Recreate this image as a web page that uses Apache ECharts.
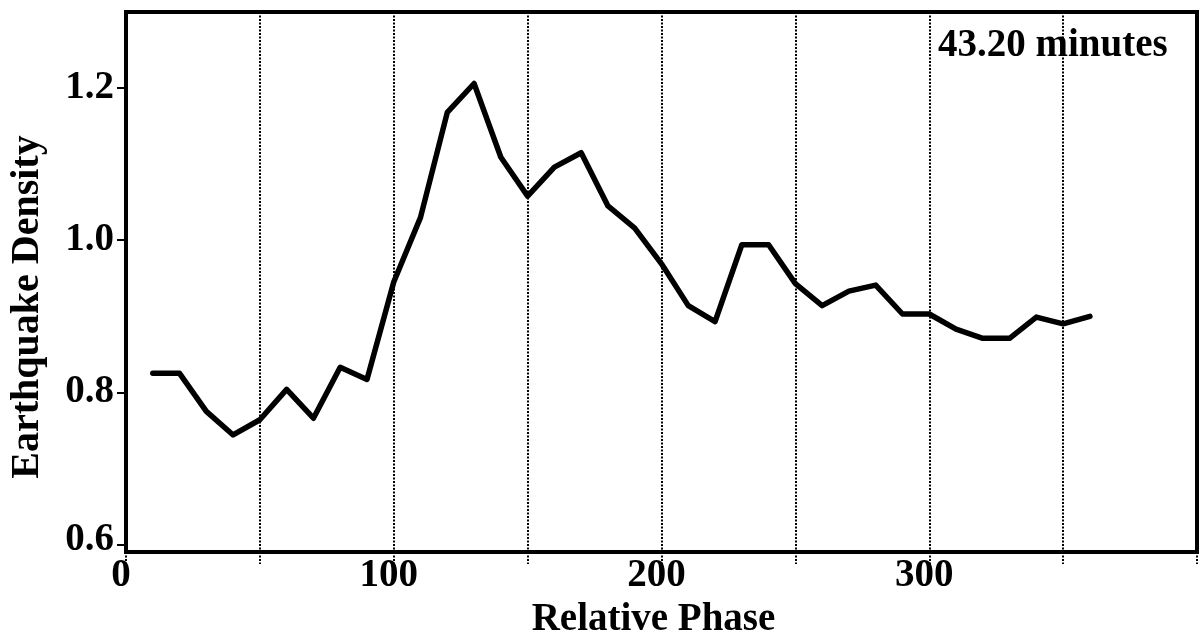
<!DOCTYPE html>
<html>
<head>
<meta charset="utf-8">
<title>Earthquake Density vs Relative Phase</title>
<script src="https://cdn.jsdelivr.net/npm/echarts@6/dist/echarts.min.js"></script>
<style>
  html, body { margin: 0; padding: 0; background: #ffffff; }
  #chart { width: 1203px; height: 644px; }
</style>
</head>
<body>
<div id="chart"></div>
<script>
// Relative phase (degrees) of each bin and the earthquake density in it
const phase = [10, 20, 30, 40, 50, 60, 70, 80, 90, 100,
               110, 120, 130, 140, 150, 160, 170, 180, 190, 200,
               210, 220, 230, 240, 250, 260, 270, 280, 290, 300,
               310, 320, 330, 340, 350, 360];
const density = [0.825, 0.825, 0.775, 0.744, 0.764, 0.804, 0.766, 0.833, 0.817, 0.945,
                 1.030, 1.168, 1.206, 1.109, 1.058, 1.096, 1.115, 1.045, 1.016, 0.969,
                 0.914, 0.893, 0.994, 0.994, 0.943, 0.914, 0.933, 0.941, 0.903, 0.903,
                 0.883, 0.871, 0.871, 0.899, 0.890, 0.900];

const xTickLabels = [0, 100, 200, 300];
const yTickLabels = [0.6, 0.8, 1.0, 1.2];
const periodLabel = '43.20 minutes';

const points = phase.map((p, i) => [p, density[i]]);
const FONT = 'Liberation Serif';

const chart = echarts.init(document.getElementById('chart'), null, { renderer: 'canvas' });

chart.setOption({
  backgroundColor: '#ffffff',
  animation: false,
  title: {
    text: periodLabel,
    left: 938,
    top: 26,
    padding: 0,
    textStyle: { fontFamily: FONT, fontWeight: 'bold', fontSize: 39, color: '#000' }
  },
  grid: {
    left: 119, right: 6, top: 12, bottom: 78,
    show: true,
    borderColor: '#000',
    borderWidth: 4,
    backgroundColor: 'transparent'
  },
  xAxis: {
    type: 'value',
    min: 0,
    max: 400,
    interval: 50,
    name: 'Relative Phase',
    nameLocation: 'middle',
    nameGap: 40,
    nameTextStyle: {
      fontFamily: FONT, fontWeight: 'bold', fontSize: 39, color: '#000',
      padding: [0, 16, 0, 0]
    },
    axisLine: { show: true, lineStyle: { color: '#000', width: 4 } },
    axisTick: { show: true, length: 12, lineStyle: { color: '#000', width: 2, type: [2, 1.5] } },
    axisLabel: {
      margin: 4,
      padding: [0, 10, 0, 0],
      fontFamily: FONT, fontWeight: 'bold', fontSize: 39, color: '#000',
      formatter: v => (xTickLabels.indexOf(v) >= 0 ? String(v) : '')
    },
    splitLine: { show: true, lineStyle: { color: '#000', width: 2, type: [2, 1.5] } }
  },
  yAxis: {
    type: 'value',
    min: 0.59,
    max: 1.3,
    splitNumber: 3,
    minInterval: 0.2,
    maxInterval: 0.2,
    name: 'Earthquake Density',
    nameLocation: 'middle',
    nameRotate: 90,
    nameGap: 78,
    nameTextStyle: {
      fontFamily: FONT, fontWeight: 'bold', fontSize: 40, color: '#000',
      padding: [0, 50, 0, 0]
    },
    axisLine: { show: true, lineStyle: { color: '#000', width: 4 } },
    axisTick: { show: true, length: 9, lineStyle: { color: '#000', width: 2 } },
    axisLabel: {
      margin: 12,
      showMinLabel: false,
      showMaxLabel: false,
      fontFamily: FONT, fontWeight: 'bold', fontSize: 39, color: '#000',
      formatter: v => {
        const hit = yTickLabels.find(t => Math.abs(t - v) < 1e-6);
        if (hit === undefined) return '';
        const s = hit.toFixed(1);
        return hit === yTickLabels[0] ? '{low|' + s + '}' : s;
      },
      rich: {
        low: { fontFamily: FONT, fontWeight: 'bold', fontSize: 39, color: '#000', padding: [0, 0, 10, 0] }
      }
    },
    splitLine: { show: false }
  },
  series: [{
    type: 'line',
    data: points,
    showSymbol: false,
    smooth: false,
    lineStyle: { color: '#000', width: 5.5, cap: 'round', join: 'round' },
    z: 3
  }]
});
</script>
</body>
</html>
